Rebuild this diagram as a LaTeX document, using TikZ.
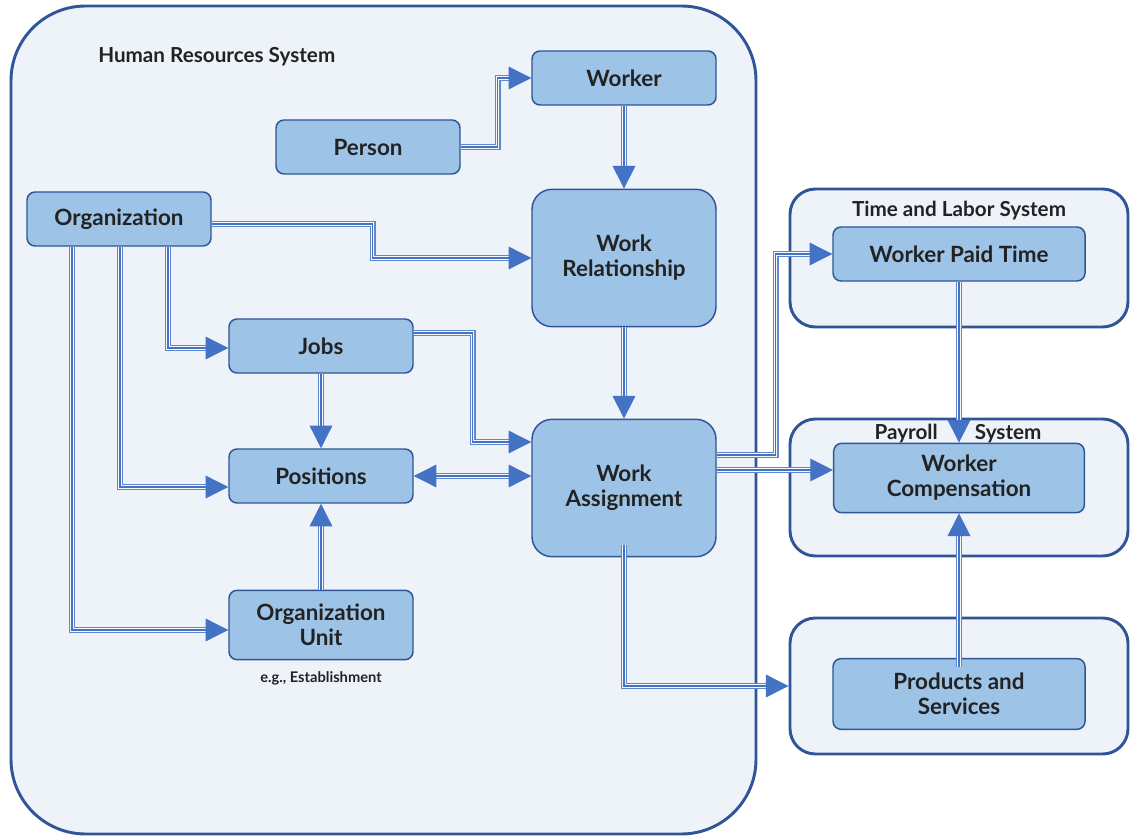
\documentclass[tikz,border=0pt]{standalone}
\usepackage{fontspec}
\setmainfont{Lato}
\usetikzlibrary{arrows.meta,positioning,calc}
\definecolor{panel}{HTML}{EEF2F9}
\definecolor{frame}{HTML}{2F5597}
\definecolor{boxfill}{HTML}{9DC3E6}
\definecolor{pipec}{HTML}{4472C4}
\definecolor{ink}{HTML}{222222}
\tikzset{
   system/.style={draw=frame, fill=panel, line width=2.2pt, rounded corners=#1, inner sep=0pt},
   system/.default=19pt,
   title/.style={font=\bfseries\fontsize{15.5}{18}\selectfont, text=ink, inner sep=0pt},
   entity/.style={draw=frame, fill=boxfill, line width=1.1pt, rounded corners=6pt,
      minimum width=138pt, minimum height=40.5pt, inner sep=0pt, align=center,
      font=\bfseries\fontsize{16.8}{18.75}\selectfont, text=ink},
   note/.style={font=\bfseries\fontsize{11}{13}\selectfont, text=ink, inner sep=0pt},
   % three-line connector: two outer strokes, a gap, a centre stroke that carries the tip
   pipe/.style={
      postaction={draw=pipec!85, line width=4.5pt, shorten >=15pt},
      postaction={draw=panel!50!white, line width=2.3pt, shorten >=14pt},
      postaction={draw=pipec, line width=0.9pt, -{Triangle[length=17pt,width=17pt]}}},
   pipe both/.style={
      postaction={draw=pipec!85, line width=4.5pt, shorten >=15pt, shorten <=15pt},
      postaction={draw=panel!50!white, line width=2.3pt, shorten >=14pt, shorten <=14pt},
      postaction={draw=pipec, line width=0.9pt, {Triangle[length=17pt,width=17pt]}-{Triangle[length=17pt,width=17pt]}}}
}
\begin{document}
\begin{tikzpicture}[x=0.75pt, y=-0.75pt]
  \useasboundingbox (0,0) rectangle (1130,837);
  % systems
  \node[system=56pt, minimum width=558.75pt, minimum height=621pt] (HR) at (383.5,420) {};
  \node[title, anchor=west] (HRt) at (98,57) {Human Resources System};
  \node[system, minimum width=253.5pt, minimum height=103.5pt] (TL) at (959,258) {};
  \node[title] (TLt) at (959,211) {Time and Labor System};
  \node[system, minimum width=253.5pt, minimum height=102.75pt] (PR) at (959,487.5) {};
  \node[title] (PRt) at (958,434) {Payroll\hspace{1.8em}System};
  \node[system, minimum width=253.5pt, minimum height=102pt] (PSsys) at (959,686) {};
  % entities
  \node[entity] (Worker) at (624,78) {Worker};
  \node[entity] (Person) at (368,147) {Person};
  \node[entity] (Org) at (119,219) {Organization};
  \node[entity, minimum height=103pt, rounded corners=15pt] (WR) at (624,258) {Work\\Relationship};
  \node[entity] (Jobs) at (321,346) {Jobs};
  \node[entity] (Positions) at (321,476) {Positions};
  \node[entity, minimum height=103pt, rounded corners=15pt] (WA) at (624,488) {Work\\Assignment};
  \node[entity, minimum height=52pt] (OU) at (321,625) {Organization\\Unit};
  \node[note, below=8pt of OU] (eg) {e.g., Establishment};
  \node[entity, minimum width=189pt] (WPT) at (959,254) {Worker Paid Time};
  \node[entity, minimum width=188pt, minimum height=52pt] (WC) at (959,478) {Worker\\Compensation};
  \node[entity, minimum width=189pt, minimum height=53pt] (PS) at (959,694) {Products and\\Services};
  % connectors
  \path[pipe] (Person.east) -- ++(37,0) |- (Worker.west);
  \path[pipe] (Worker.south) -- (WR.north);
  \path[pipe] ($(Org.east)+(0,5)$) -- ++(161,0) |- (WR.west);
  \path[pipe] (WR.south) -- (WA.north);
  \path[pipe] ($(Org.south)+(49,0)$) |- ($(Jobs.west)+(0,2)$);
  \path[pipe] ($(Org.south)+(1,0)$) |- ($(Positions.west)+(0,11)$);
  \path[pipe] ($(Org.south)+(-47,0)$) |- ($(OU.west)+(0,5)$);
  \path[pipe] (Jobs.south) -- (Positions.north);
  \path[pipe] (OU.north) -- (Positions.south);
  \path[pipe] ($(Jobs.east)+(0,-13)$) -- ++(59,0) |- ($(WA.west)+(0,-46)$);
  \path[pipe both] (Positions.east) -- (Positions.east -| WA.west);
  \path[pipe] ($(WA.east)+(0,-33)$) -- ++(59,0) |- (WPT.west);
  \path[pipe] ($(WA.east)+(0,-18)$) -- ($(WC.west)+(0,-8)$);
  \path[pipe] ($(WA.south)+(0,-12)$) |- (PSsys.west);
  \path[pipe] (WPT.south) -- (WC.north);
  \path[pipe] ($(PS.north)+(0,9)$) -- (WC.south);
\end{tikzpicture}
\end{document}
